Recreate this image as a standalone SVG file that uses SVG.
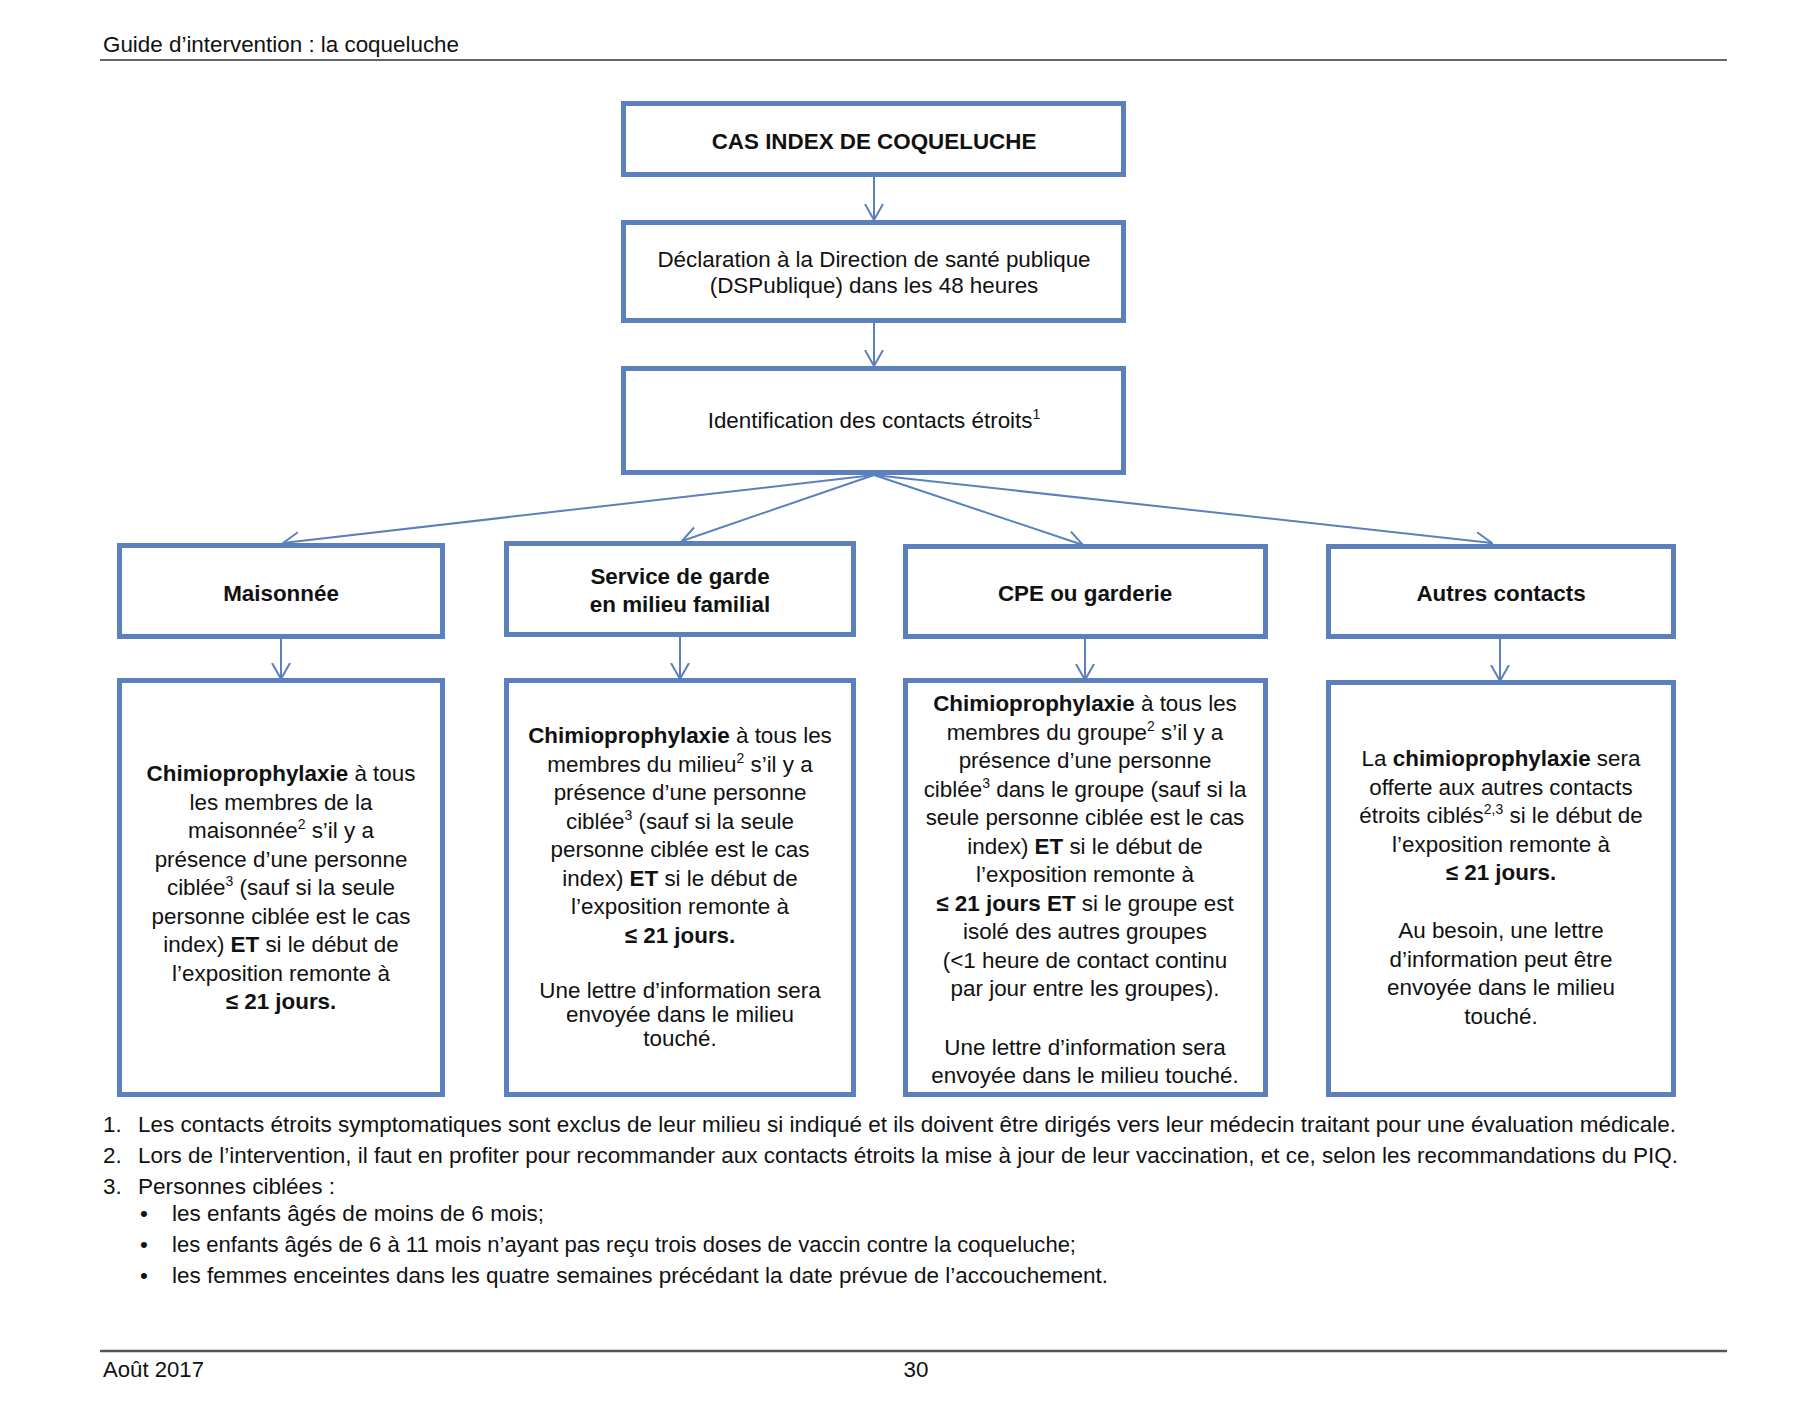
<svg xmlns="http://www.w3.org/2000/svg" width="1800" height="1426" viewBox="0 0 1800 1426">
<style>
.box{fill:#fff;stroke:#5B80BC;stroke-width:5}
.con{fill:none;stroke:#5B80BC;stroke-width:2}
text{font-family:"Liberation Sans",Arial,sans-serif;font-size:22.4px;fill:#111}
.c{text-anchor:middle}
.b{font-weight:bold}
.sup{font-size:14px}
.n{font-family:"Liberation Sans Narrow","Liberation Sans",Arial,sans-serif}
</style>
<defs>
<marker id="arr" viewBox="0 0 17 20" refX="16" refY="10" markerWidth="17" markerHeight="20" markerUnits="userSpaceOnUse" orient="auto">
<path d="M0,1 L16,10 L0,19" fill="none" stroke="#5B80BC" stroke-width="2"/>
</marker>
</defs>
<rect width="1800" height="1426" fill="#fff"/>

<g id="header">
<text x="103" y="52">Guide d’intervention : la coqueluche</text>
<line x1="100" y1="60" x2="1727" y2="60" stroke="#333" stroke-width="1.5"/>
</g>

<g id="connectors">
<line class="con" x1="874" y1="177" x2="874" y2="220" marker-end="url(#arr)"/>
<line class="con" x1="874" y1="323" x2="874" y2="366" marker-end="url(#arr)"/>
<line class="con" x1="874" y1="475" x2="283" y2="543" marker-end="url(#arr)"/>
<line class="con" x1="874" y1="475" x2="682" y2="541" marker-end="url(#arr)"/>
<line class="con" x1="874" y1="475" x2="1083" y2="545" marker-end="url(#arr)"/>
<line class="con" x1="874" y1="475" x2="1492" y2="543" marker-end="url(#arr)"/>
<line class="con" x1="281" y1="639" x2="281" y2="679" marker-end="url(#arr)"/>
<line class="con" x1="680" y1="637" x2="680" y2="679" marker-end="url(#arr)"/>
<line class="con" x1="1085" y1="639" x2="1085" y2="680" marker-end="url(#arr)"/>
<line class="con" x1="1500" y1="639" x2="1500" y2="681" marker-end="url(#arr)"/>
</g>

<g id="cas-index">
<rect class="box" x="623.5" y="103.5" width="500" height="71"/>
<text class="c b" x="874" y="149">CAS INDEX DE COQUELUCHE</text>
</g>

<g id="declaration">
<rect class="box" x="623.5" y="222.5" width="500" height="98"/>
<text class="c" x="874" y="267">Déclaration à la Direction de santé publique</text>
<text class="c" x="874" y="293">(DSPublique) dans les 48 heures</text>
</g>

<g id="identification">
<rect class="box" x="623.5" y="368.5" width="500" height="104"/>
<text class="c" x="874" y="428">Identification des contacts étroits<tspan class="sup" dy="-9">1</tspan></text>
</g>

<g id="maisonnee">
<rect class="box" x="119.5" y="545.5" width="323" height="91"/>
<text class="c b" x="281" y="601">Maisonnée</text>
</g>

<g id="service-garde">
<rect class="box" x="506.5" y="543.5" width="347" height="91"/>
<text class="c b" x="680" y="584">Service de garde</text>
<text class="c b" x="680" y="612">en milieu familial</text>
</g>

<g id="cpe">
<rect class="box" x="905.5" y="546.5" width="360" height="90"/>
<text class="c b" x="1085" y="601">CPE ou garderie</text>
</g>

<g id="autres">
<rect class="box" x="1328.5" y="546.5" width="345" height="90"/>
<text class="c b" x="1501" y="601">Autres contacts</text>
</g>

<g id="maisonnee-action">
<rect class="box" x="119.5" y="680.5" width="323" height="414"/>
<text class="c" x="281" y="781"><tspan class="b">Chimioprophylaxie</tspan> à tous</text>
<text class="c" x="281" y="809.5">les membres de la</text>
<text class="c" x="281" y="838">maisonnée<tspan class="sup" dy="-9">2</tspan><tspan dy="9"> s’il y a</tspan></text>
<text class="c" x="281" y="866.5">présence d’une personne</text>
<text class="c" x="281" y="895">ciblée<tspan class="sup" dy="-9">3</tspan><tspan dy="9"> (sauf si la seule</tspan></text>
<text class="c" x="281" y="923.5">personne ciblée est le cas</text>
<text class="c" x="281" y="952">index) <tspan class="b">ET</tspan> si le début de</text>
<text class="c" x="281" y="980.5">l’exposition remonte à</text>
<text class="c b" x="281" y="1009">≤ 21 jours.</text>
</g>

<g id="service-action">
<rect class="box" x="506.5" y="680.5" width="347" height="414"/>
<text class="c" x="680" y="743"><tspan class="b">Chimioprophylaxie</tspan> à tous les</text>
<text class="c" x="680" y="771.5">membres du milieu<tspan class="sup" dy="-9">2</tspan><tspan dy="9"> s’il y a</tspan></text>
<text class="c" x="680" y="800">présence d’une personne</text>
<text class="c" x="680" y="828.5">ciblée<tspan class="sup" dy="-9">3</tspan><tspan dy="9"> (sauf si la seule</tspan></text>
<text class="c" x="680" y="857">personne ciblée est le cas</text>
<text class="c" x="680" y="885.5">index) <tspan class="b">ET</tspan> si le début de</text>
<text class="c" x="680" y="914">l’exposition remonte à</text>
<text class="c b" x="680" y="942.5">≤ 21 jours.</text>
<text class="c" x="680" y="998">Une lettre d’information sera</text>
<text class="c" x="680" y="1022">envoyée dans le milieu</text>
<text class="c" x="680" y="1046">touché.</text>
</g>

<g id="cpe-action">
<rect class="box" x="905.5" y="680.5" width="360" height="414"/>
<text class="c" x="1085" y="711"><tspan class="b">Chimioprophylaxie</tspan> à tous les</text>
<text class="c" x="1085" y="739.5">membres du groupe<tspan class="sup" dy="-9">2</tspan><tspan dy="9"> s’il y a</tspan></text>
<text class="c" x="1085" y="768">présence d’une personne</text>
<text class="c" x="1085" y="796.5">ciblée<tspan class="sup" dy="-9">3</tspan><tspan dy="9"> dans le groupe (sauf si la</tspan></text>
<text class="c" x="1085" y="825">seule personne ciblée est le cas</text>
<text class="c" x="1085" y="853.5">index) <tspan class="b">ET</tspan> si le début de</text>
<text class="c" x="1085" y="882">l’exposition remonte à</text>
<text class="c" x="1085" y="910.5"><tspan class="b">≤ 21 jours ET</tspan> si le groupe est</text>
<text class="c" x="1085" y="939">isolé des autres groupes</text>
<text class="c" x="1085" y="967.5">(&lt;1 heure de contact continu</text>
<text class="c" x="1085" y="996">par jour entre les groupes).</text>
<text class="c" x="1085" y="1055">Une lettre d’information sera</text>
<text class="c" x="1085" y="1083">envoyée dans le milieu touché.</text>
</g>

<g id="autres-action">
<rect class="box" x="1328.5" y="682.5" width="345" height="412"/>
<text class="c" x="1501" y="766">La <tspan class="b">chimioprophylaxie</tspan> sera</text>
<text class="c" x="1501" y="794.5">offerte aux autres contacts</text>
<text class="c" x="1501" y="823">étroits ciblés<tspan class="sup" dy="-9">2,3</tspan><tspan dy="9"> si le début de</tspan></text>
<text class="c" x="1501" y="851.5">l’exposition remonte à</text>
<text class="c b" x="1501" y="880">≤ 21 jours.</text>
<text class="c" x="1501" y="938">Au besoin, une lettre</text>
<text class="c" x="1501" y="966.5">d’information peut être</text>
<text class="c" x="1501" y="995">envoyée dans le milieu</text>
<text class="c" x="1501" y="1023.5">touché.</text>
</g>

<g id="footnotes">
<text class="n" x="103" y="1132">1.</text>
<text class="n" x="138" y="1132" textLength="1538" lengthAdjust="spacingAndGlyphs">Les contacts étroits symptomatiques sont exclus de leur milieu si indiqué et ils doivent être dirigés vers leur médecin traitant pour une évaluation médicale.</text>
<text class="n" x="103" y="1163">2.</text>
<text class="n" x="138" y="1163" textLength="1540" lengthAdjust="spacingAndGlyphs">Lors de l’intervention, il faut en profiter pour recommander aux contacts étroits la mise à jour de leur vaccination, et ce, selon les recommandations du PIQ.</text>
<text class="n" x="103" y="1194">3.</text>
<text class="n" x="138" y="1194" textLength="197" lengthAdjust="spacingAndGlyphs">Personnes ciblées :</text>
<text class="n c" x="144" y="1221">•</text>
<text class="n" x="172" y="1221" textLength="372" lengthAdjust="spacingAndGlyphs">les enfants âgés de moins de 6 mois;</text>
<text class="n c" x="144" y="1252">•</text>
<text class="n" x="172" y="1252" textLength="904" lengthAdjust="spacingAndGlyphs">les enfants âgés de 6 à 11 mois n’ayant pas reçu trois doses de vaccin contre la coqueluche;</text>
<text class="n c" x="144" y="1283">•</text>
<text class="n" x="172" y="1283" textLength="936" lengthAdjust="spacingAndGlyphs">les femmes enceintes dans les quatre semaines précédant la date prévue de l’accouchement.</text>
</g>

<g id="footer">
<line x1="100" y1="1351" x2="1727" y2="1351" stroke="#555" stroke-width="2.5"/>
<text class="n" x="103" y="1377" textLength="101" lengthAdjust="spacingAndGlyphs">Août 2017</text>
<text class="n c" x="916" y="1377">30</text>
</g>
</svg>
